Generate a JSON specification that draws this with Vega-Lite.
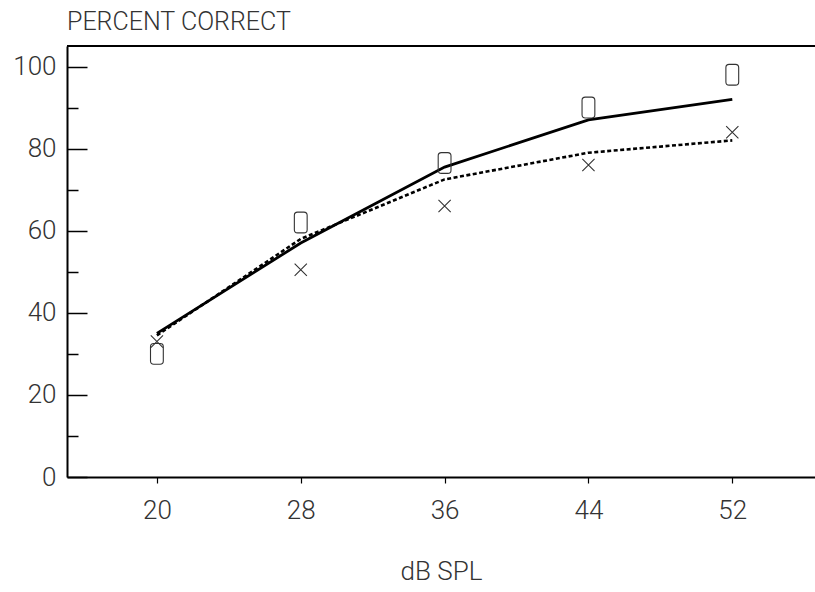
{
  "$schema": "https://vega.github.io/schema/vega-lite/v6.json",
  "width": 748,
  "height": 431,
  "autosize": "none",
  "padding": {"left": 67, "top": 46, "right": 0, "bottom": 115},
  "background": "white",
  "title": {"text": "PERCENT CORRECT", "anchor": "start", "frame": "group", "font": "Roboto", "fontWeight": 300, "fontSize": 25, "color": "#333", "offset": 10},
  "config": {
    "view": {"stroke": null},
    "axis": {"labelFont": "Roboto", "labelFontWeight": 300, "labelFontSize": 26, "labelColor": "#333", "titleFont": "Roboto", "titleFontWeight": 300, "titleFontSize": 26, "titleColor": "#333", "grid": false, "domainColor": "black", "domainWidth": 2, "tickColor": "black"}
  },
  "datasets": {
    "pts": [
      {"db": 20, "pct": 30, "cond": "O"},
      {"db": 28, "pct": 62, "cond": "O"},
      {"db": 36, "pct": 76.5, "cond": "O"},
      {"db": 44, "pct": 90, "cond": "O"},
      {"db": 52, "pct": 98, "cond": "O"},
      {"db": 20, "pct": 33, "cond": "X"},
      {"db": 28, "pct": 50.5, "cond": "X"},
      {"db": 36, "pct": 66, "cond": "X"},
      {"db": 44, "pct": 76, "cond": "X"},
      {"db": 52, "pct": 84, "cond": "X"}
    ],
    "fits": [
      {"db": 20, "pct": 35, "cond": "O"},
      {"db": 28, "pct": 57, "cond": "O"},
      {"db": 36, "pct": 75.5, "cond": "O"},
      {"db": 44, "pct": 87, "cond": "O"},
      {"db": 52, "pct": 92, "cond": "O"},
      {"db": 20, "pct": 34.5, "cond": "X"},
      {"db": 28, "pct": 58, "cond": "X"},
      {"db": 36, "pct": 72.5, "cond": "X"},
      {"db": 44, "pct": 79, "cond": "X"},
      {"db": 52, "pct": 82, "cond": "X"}
    ],
    "frame": [{"top": 105}]
  },
  "layer": [
    {
      "data": {"name": "fits"},
      "transform": [{"filter": "datum.cond === 'O'"}],
      "mark": {"type": "line", "color": "black", "strokeWidth": 2.8},
      "encoding": {
        "x": {"field": "db", "type": "quantitative", "scale": {"domain": [15, 56.6], "nice": false, "zero": false},
          "axis": {"values": [20, 28, 36, 44, 52], "tickSize": 6, "tickWidth": 1.2, "labelPadding": 14, "title": "dB SPL", "titlePadding": 35}},
        "y": {"field": "pct", "type": "quantitative", "scale": {"domain": [0, 105], "nice": false},
          "axis": {"values": [0, 5, 10, 15, 20, 25, 30, 35, 40, 45, 50, 55, 60, 65, 70, 75, 80, 85, 90, 95, 100],
            "tickSize": {"condition": {"test": "datum.value % 20 === 0", "value": -20}, "value": -11},
            "tickWidth": 1.5,
            "labelExpr": "datum.value % 20 === 0 ? datum.label : ''",
            "labelPadding": 31, "title": null}}
      }
    },
    {
      "data": {"name": "fits"},
      "transform": [{"filter": "datum.cond === 'X'"}],
      "mark": {"type": "line", "color": "black", "strokeWidth": 2.6, "strokeDash": [4, 2.5]},
      "encoding": {
        "x": {"field": "db", "type": "quantitative"},
        "y": {"field": "pct", "type": "quantitative"}
      }
    },
    {
      "data": {"name": "pts"},
      "transform": [{"filter": "datum.cond === 'O'"}],
      "mark": {"type": "point", "shape": "M-0.32,-0.36Q-0.32,-0.52,-0.16,-0.52L0.16,-0.52Q0.32,-0.52,0.32,-0.36L0.32,0.36Q0.32,0.52,0.16,0.52L-0.16,0.52Q-0.32,0.52,-0.32,0.36Z", "size": 1600, "filled": false, "stroke": "#333", "strokeWidth": 1.1, "opacity": 1},
      "encoding": {
        "x": {"field": "db", "type": "quantitative"},
        "y": {"field": "pct", "type": "quantitative"}
      }
    },
    {
      "data": {"name": "pts"},
      "transform": [{"filter": "datum.cond === 'X'"}],
      "mark": {"type": "point", "shape": "M-1,-1L1,1M1,-1L-1,1", "size": 150, "filled": false, "stroke": "#333", "strokeWidth": 1.1, "opacity": 1},
      "encoding": {
        "x": {"field": "db", "type": "quantitative"},
        "y": {"field": "pct", "type": "quantitative"}
      }
    },
    {
      "data": {"name": "frame"},
      "mark": {"type": "rule", "color": "black", "strokeWidth": 2},
      "encoding": {
        "y": {"field": "top", "type": "quantitative"}
      }
    }
  ]
}
